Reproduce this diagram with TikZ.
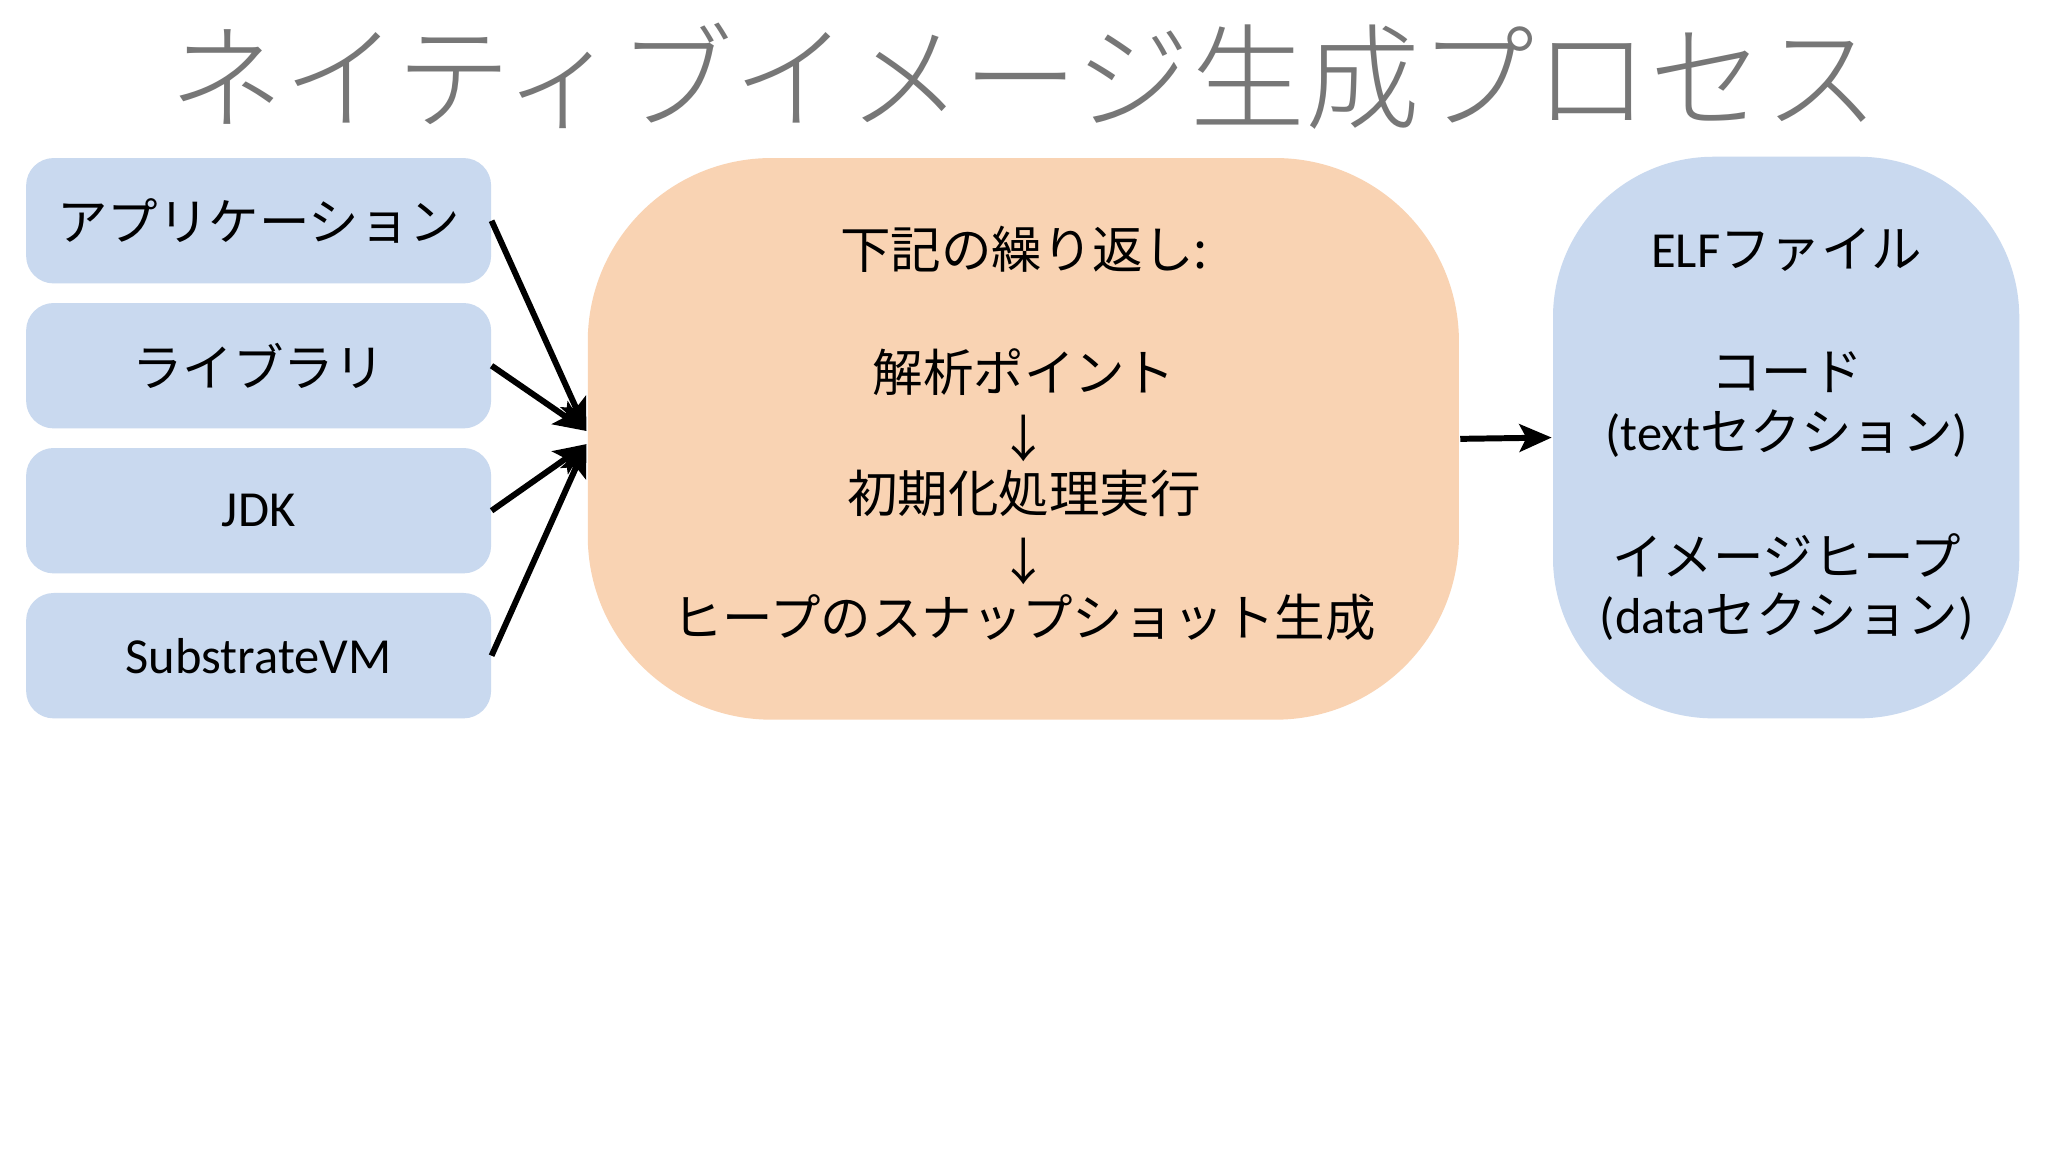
\documentclass[tikz,border=0pt]{standalone}
\usepackage{fontspec}
\setmainfont{Carlito}
\newfontfamily\jp{Noto Sans CJK JP}
\newfontfamily\jpl{Noto Sans CJK JP Light}
\usetikzlibrary{arrows.meta}
\definecolor{bl}{HTML}{C9D9EF}
\definecolor{pe}{HTML}{F9D3B3}
\definecolor{tg}{HTML}{777777}
\tikzset{
  lbox/.style={fill=bl, rounded corners=12pt, minimum width=356*0.02cm, minimum height=96*0.02cm, inner sep=0pt, font=\fontsize{22}{26}\selectfont},
  arr/.style={line width=2.6pt, -{Stealth[length=14pt,width=12pt,inset=3pt]}},
  txt/.style={font=\fontsize{22}{26}\selectfont, inner sep=0pt}
}
\begin{document}
\begin{tikzpicture}[x=0.02cm,y=-0.02cm]
\useasboundingbox (0,0) rectangle (1568,882);
\fill[white] (0,0) rectangle (1568,882);
\node[font=\fontsize{50}{56}\selectfont\jpl, text=tg] (title) at (784,58) {ネイティブイメージ生成プロセス};
\node[lbox] (a) at (198,169) {\jp アプリケーション};
\node[lbox] (b) at (198,280) {\jp ライブラリ};
\node[lbox] (c) at (198,391) {JDK};
\node[lbox] (d) at (198,502) {SubstrateVM};
\fill[pe, rounded corners=80pt] (450,121) rectangle (1117,551);
\coordinate (mid) at (783,336);
\fill[bl, rounded corners=70pt] (1189,120) rectangle (1546,550);
\node[txt] (m1) at (784,191) {\jp 下記の繰り返し:};
\node[txt] (m2) at (784,285) {\jp 解析ポイント};
\node[txt] (m3) at (784,336) {\jp ↓};
\node[txt] (m4) at (784,378) {\jp 初期化処理実行};
\node[txt] (m5) at (784,430) {\jp ↓};
\node[txt] (m6) at (784,473) {\jp ヒープのスナップショット生成};
\node[txt] (r1) at (1368,191) {ELF{\jp ファイル}};
\node[txt] (r2) at (1368,285) {\jp コード};
\node[txt] (r3) at (1368,332) {(text{\jp セクション})};
\node[txt] (r4) at (1368,425) {\jp イメージヒープ};
\node[txt] (r5) at (1368,472) {(data{\jp セクション})};
\coordinate (t1) at (449,330);
\coordinate (t2) at (449,340);
\coordinate (s1) at (1118,336);
\coordinate (e1) at (1188,335);
\draw[arr] (a.east) -- (t1);
\draw[arr] (b.east) -- (t1);
\draw[arr] (c.east) -- (t2);
\draw[arr] (d.east) -- (t2);
\draw[arr] (s1) -- (e1);
\end{tikzpicture}
\end{document}
